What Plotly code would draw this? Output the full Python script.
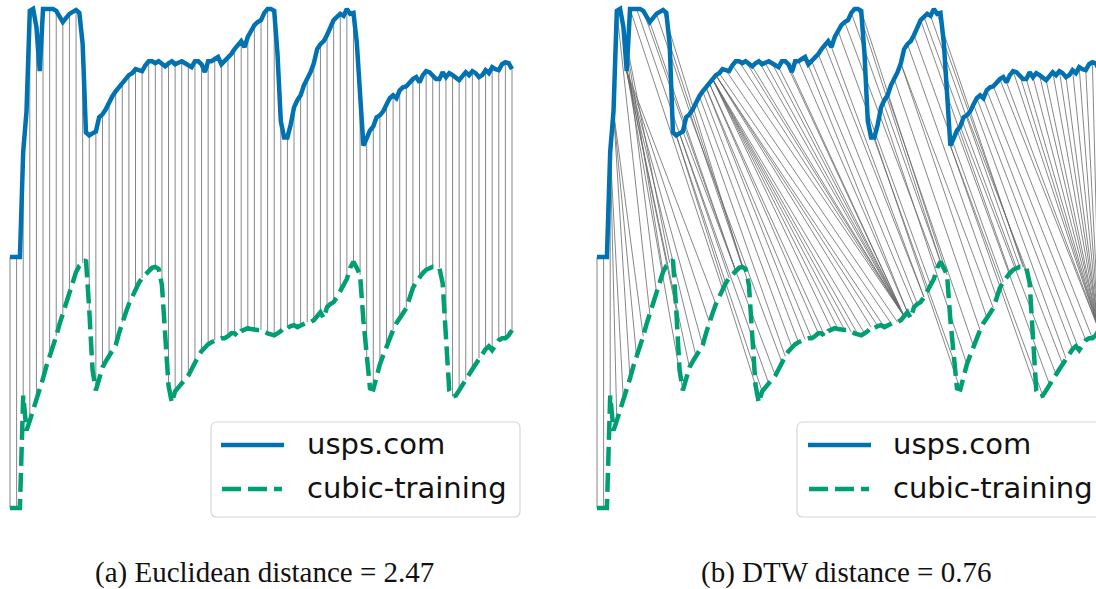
import numpy as np
import plotly.graph_objects as go

# ---------------- data (min-max normalised traffic series) ----------------
usps = [0.0, 0.0, 0.0, 0.0, 0.425, 0.587, 0.992, 1.0, 0.927, 0.749,
        1.0, 1.0, 1.0, 1.0, 0.992, 0.968, 0.947, 0.964, 0.980, 0.988,
        0.996, 0.984, 0.858, 0.502, 0.490, 0.498, 0.506, 0.563, 0.575, 0.595,
        0.623, 0.648, 0.668, 0.684, 0.700, 0.717, 0.733, 0.741, 0.757, 0.753,
        0.749, 0.773, 0.789, 0.789, 0.781, 0.789, 0.781, 0.769, 0.781, 0.789,
        0.777, 0.781, 0.789, 0.781, 0.773, 0.765, 0.789, 0.789, 0.777, 0.745,
        0.789, 0.789, 0.798, 0.806, 0.777, 0.789, 0.802, 0.818, 0.838, 0.854,
        0.870, 0.846, 0.887, 0.911, 0.935, 0.947, 0.955, 0.984, 1.0, 1.0,
        0.992, 0.818, 0.547, 0.482, 0.482, 0.534, 0.603, 0.632, 0.652, 0.692,
        0.717, 0.745, 0.781, 0.838, 0.858, 0.870, 0.895, 0.931, 0.955, 0.968,
        0.980, 0.972, 1.0, 0.980, 0.984, 0.866, 0.636, 0.449, 0.478, 0.510,
        0.526, 0.563, 0.571, 0.587, 0.615, 0.640, 0.652, 0.640, 0.672, 0.684,
        0.688, 0.704, 0.717, 0.725, 0.704, 0.733, 0.749, 0.745, 0.733, 0.717,
        0.717, 0.745, 0.725, 0.741, 0.733, 0.721, 0.713, 0.729, 0.745, 0.733,
        0.749, 0.741, 0.725, 0.733, 0.753, 0.741, 0.765, 0.757, 0.753, 0.777,
        0.785, 0.781, 0.757]

cubic = [0.0, 0.0, 0.0, 0.0, 0.453, 0.312, 0.352, 0.393, 0.433, 0.474,
         0.522, 0.571, 0.607, 0.648, 0.692, 0.741, 0.781, 0.822, 0.870, 0.915,
         0.951, 0.976, 0.988, 1.0, 0.798, 0.555, 0.474, 0.530, 0.567, 0.591,
         0.611, 0.632, 0.656, 0.704, 0.749, 0.785, 0.822, 0.854, 0.883, 0.907,
         0.927, 0.943, 0.955, 0.968, 0.972, 0.964, 0.899, 0.676, 0.494, 0.425,
         0.470, 0.486, 0.502, 0.518, 0.534, 0.559, 0.587, 0.611, 0.632, 0.648,
         0.660, 0.668, 0.676, 0.680, 0.684, 0.684, 0.692, 0.704, 0.704, 0.692,
         0.713, 0.721, 0.725, 0.721, 0.717, 0.717, 0.717, 0.709, 0.704, 0.700,
         0.696, 0.704, 0.713, 0.729, 0.725, 0.733, 0.737, 0.729, 0.737, 0.745,
         0.749, 0.749, 0.757, 0.773, 0.789, 0.765, 0.810, 0.822, 0.830, 0.850,
         0.874, 0.899, 0.923, 0.968, 0.992, 0.968, 0.939, 0.757, 0.595, 0.482,
         0.478, 0.534, 0.579, 0.615, 0.652, 0.688, 0.717, 0.745, 0.769, 0.785,
         0.806, 0.850, 0.887, 0.911, 0.931, 0.947, 0.960, 0.968, 0.972, 0.972,
         0.968, 0.907, 0.696, 0.474, 0.449, 0.453, 0.474, 0.498, 0.518, 0.538,
         0.559, 0.579, 0.603, 0.623, 0.640, 0.652, 0.636, 0.656, 0.676, 0.684,
         0.684, 0.696, 0.717]

series_names = ["usps.com", "cubic-training"]
captions = ["(a) Euclidean distance = 2.47", "(b) DTW distance = 0.76"]

# ---------------- styling / layout constants ----------------
W, H = 1096, 589
BLUE, GREEN = "#0072B2", "#009E73"
GRAY = "rgba(105,105,105,0.8)"
OFFSET = 1.012          # vertical shift applied to usps.com for display
STEP = 2                # draw every 2nd correspondence
DX = 3.3026             # pixels per sample
Y_RANGE = [-0.327, 2.048]

a = np.array(usps)
b = np.array(cubic)
n = len(a)
idx = np.arange(n)


def dtw_path(s1, s2):
    n1, n2 = len(s1), len(s2)
    D = np.full((n1 + 1, n2 + 1), np.inf)
    D[0, 0] = 0.0
    for i in range(1, n1 + 1):
        for j in range(1, n2 + 1):
            c = (s1[i - 1] - s2[j - 1]) ** 2
            D[i, j] = c + min(D[i - 1, j], D[i, j - 1], D[i - 1, j - 1])
    i, j = n1, n2
    path = [(i - 1, j - 1)]
    while (i, j) != (1, 1):
        cands = [(D[i - 1, j - 1], i - 1, j - 1), (D[i - 1, j], i - 1, j), (D[i, j - 1], i, j - 1)]
        cands = [c for c in cands if c[1] >= 1 and c[2] >= 1]
        _, i, j = min(cands)
        path.append((i - 1, j - 1))
    return path[::-1]


fig = go.Figure()

# ---- left: Euclidean correspondences ----
ex, ey = [], []
for i in range(0, n, STEP):
    ex += [i, i, None]
    ey += [a[i] + OFFSET, b[i], None]
fig.add_trace(go.Scatter(x=ex, y=ey, mode="lines", line=dict(color=GRAY, width=1),
                         xaxis="x", yaxis="y", showlegend=False, hoverinfo="skip"))

# ---- right: DTW correspondences ----
path = dtw_path(a, b)
dx_, dy_ = [], []
for (i, j) in path[::STEP]:
    dx_ += [i, j, None]
    dy_ += [a[i] + OFFSET, b[j], None]
fig.add_trace(go.Scatter(x=dx_, y=dy_, mode="lines", line=dict(color=GRAY, width=1),
                         xaxis="x2", yaxis="y2", showlegend=False, hoverinfo="skip"))

for xa, ya in (("x", "y"), ("x2", "y2")):
    fig.add_trace(go.Scatter(x=idx, y=a + OFFSET, mode="lines", name=series_names[0],
                             line=dict(color=BLUE, width=4.5), xaxis=xa, yaxis=ya, showlegend=False))
    fig.add_trace(go.Scatter(x=idx, y=b, mode="lines", name=series_names[1],
                             line=dict(color=GREEN, width=4.5, dash="19px,7px"),
                             xaxis=xa, yaxis=ya, showlegend=False))


def px2x(p):
    return p / W


def px2y(p):
    return 1 - p / H


ax_common = dict(visible=False, showgrid=False, zeroline=False, fixedrange=True)
fig.update_layout(
    width=W, height=H,
    margin=dict(l=0, r=0, t=0, b=0),
    paper_bgcolor="white", plot_bgcolor="white",
    xaxis=dict(domain=[0, px2x(540)], range=[(0 - 10) / DX, (540 - 10) / DX], **ax_common),
    yaxis=dict(domain=[0, 1], range=Y_RANGE, **ax_common),
    xaxis2=dict(domain=[px2x(545), 1], range=[(545 - 597) / DX, (1096 - 597) / DX],
                anchor="y2", **ax_common),
    yaxis2=dict(domain=[0, 1], range=Y_RANGE, anchor="x2", **ax_common),
    showlegend=False,
)


def rounded_rect(x0, y0, x1, y1, r):
    X0, X1 = px2x(x0), px2x(x1)
    Y0, Y1 = px2y(y0), px2y(y1)
    rx, ry = r / W, r / H
    return (f"M {X0+rx},{Y0} L {X1-rx},{Y0} Q {X1},{Y0} {X1},{Y0-ry} "
            f"L {X1},{Y1+ry} Q {X1},{Y1} {X1-rx},{Y1} L {X0+rx},{Y1} "
            f"Q {X0},{Y1} {X0},{Y1+ry} L {X0},{Y0-ry} Q {X0},{Y0} {X0+rx},{Y0} Z")


shapes, annotations = [], []
for (bx0, bx1, lx0, lx1, tx) in ((211, 520, 221, 284, 305), (797, 1106, 808, 871, 891)):
    shapes.append(dict(type="path", xref="paper", yref="paper",
                       path=rounded_rect(bx0, 422, bx1, 517, 6),
                       line=dict(color="#d6d6d6", width=1.2),
                       fillcolor="rgba(255,255,255,0.85)", layer="above"))
    shapes.append(dict(type="line", xref="paper", yref="paper",
                       x0=px2x(lx0), x1=px2x(lx1), y0=px2y(445), y1=px2y(445),
                       line=dict(color=BLUE, width=4.5)))
    shapes.append(dict(type="line", xref="paper", yref="paper",
                       x0=px2x(lx0 + 1), x1=px2x(lx1 - 2), y0=px2y(489), y1=px2y(489),
                       line=dict(color=GREEN, width=4.5, dash="19px,7px")))
    for name, ty in zip(series_names, (444, 488)):
        annotations.append(dict(text=name, xref="paper", yref="paper",
                                x=px2x(tx), y=px2y(ty), xanchor="left", yanchor="middle",
                                showarrow=False,
                                font=dict(family="DejaVu Sans", size=29, color="#111111")))

for cap, cx in zip(captions, (264.5, 845.5)):
    annotations.append(dict(text=cap, xref="paper", yref="paper",
                            x=px2x(cx), y=px2y(572), xanchor="center", yanchor="middle",
                            showarrow=False,
                            font=dict(family="Liberation Serif", size=29, color="#111111")))

fig.update_layout(shapes=shapes, annotations=annotations)
fig.write_html("out.html")
